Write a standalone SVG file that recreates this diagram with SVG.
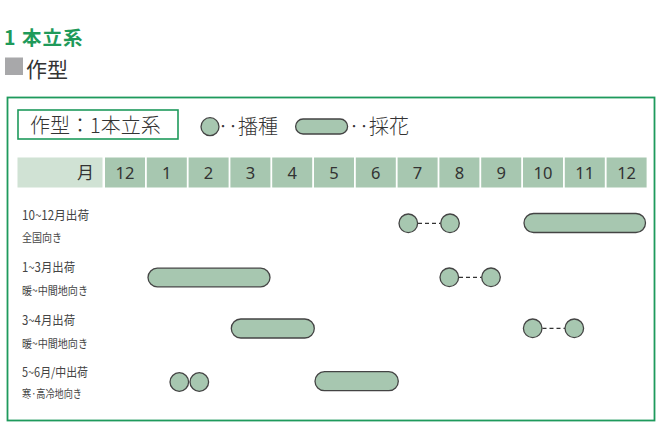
<svg xmlns="http://www.w3.org/2000/svg" width="657" height="428" viewBox="0 0 657 428">
<style>
.jp{font-family:'Noto Sans CJK JP','Noto Sans',sans-serif;fill:#333}
.mon{font-family:'Noto Sans','Noto Sans CJK JP',sans-serif;font-size:16.5px;fill:#333;text-anchor:middle}
.cell{fill:#a7c7b0}
.shape{fill:#a7c7b0;stroke:#444;stroke-width:1.3}
.lbl{font-family:'Noto Sans CJK JP',sans-serif;fill:#444}
.dash{stroke:#333;stroke-width:1.3;stroke-dasharray:4 3;fill:none}
</style>
<rect width="657" height="428" fill="#fff"/>
<g id="title">
<text x="4" y="45" font-family="'Noto Sans CJK JP',sans-serif" font-weight="bold" font-size="19.5" fill="#1f9a5a" letter-spacing="1">1 本立系</text>
<rect x="5" y="57.5" width="18" height="17.5" fill="#a8a8aa"/>
<text class="jp" x="26" y="76.5" font-size="21">作型</text>
</g>
<rect id="frame" x="7.5" y="97.5" width="647" height="323" fill="none" stroke="#1e9a5c" stroke-width="1.8"/>
<g id="legend">
<rect x="18" y="110" width="160" height="29" fill="#fff" stroke="#1e9a5c" stroke-width="1.6"/>
<text class="jp" x="30" y="133" font-size="20" font-weight="300">作型：1本立系</text>
<circle class="shape" cx="210" cy="126.7" r="9"/>
<text class="jp" x="218" y="133.5" font-size="20" font-weight="300">‥播種</text>
<rect class="shape" x="295.6" y="119" width="52" height="15" rx="7.5"/>
<text class="jp" x="349" y="133.5" font-size="20" font-weight="300">‥採花</text>
</g>
<g id="header">
<rect x="17.5" y="157.5" width="85" height="30" fill="#d0e2d4"/>
<text class="jp" x="94" y="179" font-size="17" text-anchor="end">月</text>
<rect class="cell" x="105" y="157.5" width="40" height="30"/>
<rect class="cell" x="146.8" y="157.5" width="40" height="30"/>
<rect class="cell" x="188.6" y="157.5" width="40" height="30"/>
<rect class="cell" x="230.4" y="157.5" width="40" height="30"/>
<rect class="cell" x="272.2" y="157.5" width="40" height="30"/>
<rect class="cell" x="314" y="157.5" width="40" height="30"/>
<rect class="cell" x="355.8" y="157.5" width="40" height="30"/>
<rect class="cell" x="397.6" y="157.5" width="40" height="30"/>
<rect class="cell" x="439.4" y="157.5" width="40" height="30"/>
<rect class="cell" x="481.2" y="157.5" width="40" height="30"/>
<rect class="cell" x="523" y="157.5" width="40" height="30"/>
<rect class="cell" x="564.8" y="157.5" width="40" height="30"/>
<rect class="cell" x="606.6" y="157.5" width="40" height="30"/>
<text class="mon" x="125" y="178.5">12</text>
<text class="mon" x="166.8" y="178.5">1</text>
<text class="mon" x="208.6" y="178.5">2</text>
<text class="mon" x="250.4" y="178.5">3</text>
<text class="mon" x="292.2" y="178.5">4</text>
<text class="mon" x="334" y="178.5">5</text>
<text class="mon" x="375.8" y="178.5">6</text>
<text class="mon" x="417.6" y="178.5">7</text>
<text class="mon" x="459.4" y="178.5">8</text>
<text class="mon" x="501.2" y="178.5">9</text>
<text class="mon" x="543" y="178.5">10</text>
<text class="mon" x="584.8" y="178.5">11</text>
<text class="mon" x="626.6" y="178.5">12</text>
</g>
<g id="labels">
<text class="lbl" x="22" y="220" font-size="12.5" textLength="67" lengthAdjust="spacingAndGlyphs">10~12月出荷</text>
<text class="lbl" x="22" y="241.5" font-size="11.5" textLength="40" lengthAdjust="spacingAndGlyphs">全国向き</text>
<text class="lbl" x="22" y="272" font-size="12.5" textLength="53" lengthAdjust="spacingAndGlyphs">1~3月出荷</text>
<text class="lbl" x="22" y="295" font-size="11.5" textLength="66" lengthAdjust="spacingAndGlyphs">暖~中間地向き</text>
<text class="lbl" x="22" y="325" font-size="12.5" textLength="53" lengthAdjust="spacingAndGlyphs">3~4月出荷</text>
<text class="lbl" x="22" y="347.5" font-size="11.5" textLength="66" lengthAdjust="spacingAndGlyphs">暖~中間地向き</text>
<text class="lbl" x="22" y="376.5" font-size="12.5" textLength="66" lengthAdjust="spacingAndGlyphs">5~6月/中出荷</text>
<text class="lbl" x="22" y="398" font-size="11.5" textLength="60" lengthAdjust="spacingAndGlyphs">寒·高冷地向き</text>
</g>
<g id="connectors">
<line class="dash" x1="418" y1="223.3" x2="440.5" y2="223.3"/>
<line class="dash" x1="459" y1="277.3" x2="481.5" y2="277.3"/>
<line class="dash" x1="542.5" y1="328.3" x2="565" y2="328.3"/>
</g>
<g id="row1-sow1"><circle class="shape" cx="408.3" cy="223.3" r="9.3"/></g>
<g id="row1-sow2"><circle class="shape" cx="450" cy="223.3" r="9.3"/></g>
<g id="row1-harvest"><rect class="shape" x="524" y="213.5" width="121.5" height="19" rx="9.5"/></g>
<g id="row2-harvest"><rect class="shape" x="148" y="268.2" width="122" height="18.6" rx="9.3"/></g>
<g id="row2-sow1"><circle class="shape" cx="449.3" cy="277.3" r="9.3"/></g>
<g id="row2-sow2"><circle class="shape" cx="491" cy="277.3" r="9.3"/></g>
<g id="row3-harvest"><rect class="shape" x="231.3" y="319" width="83" height="19" rx="9.5"/></g>
<g id="row3-sow1"><circle class="shape" cx="532.7" cy="328.3" r="9.3"/></g>
<g id="row3-sow2"><circle class="shape" cx="574.3" cy="328.3" r="9.3"/></g>
<g id="row4-sow1"><circle class="shape" cx="179.3" cy="382" r="9.3"/></g>
<g id="row4-sow2"><circle class="shape" cx="199.3" cy="382" r="9.3"/></g>
<g id="row4-harvest"><rect class="shape" x="315" y="371.7" width="83.3" height="19" rx="9.5"/></g>
</svg>
